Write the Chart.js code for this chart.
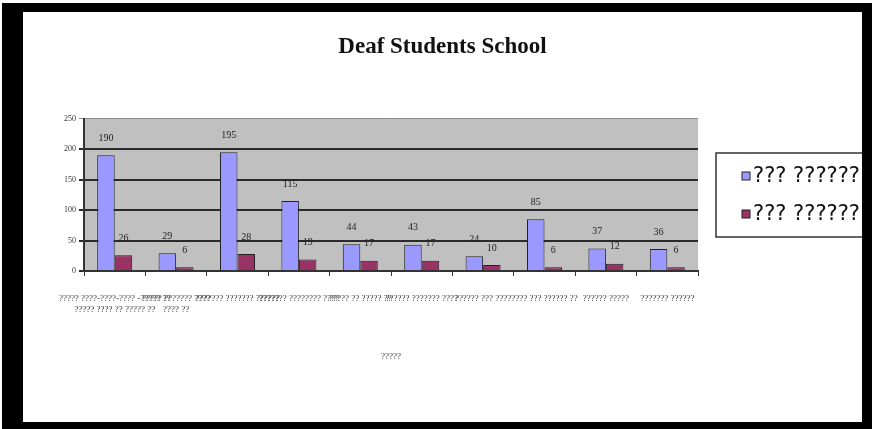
<!DOCTYPE html>
<html>
<head>
<meta charset="utf-8">
<script src="https://cdn.jsdelivr.net/npm/chart.js@4.4.0/dist/chart.umd.min.js"></script>
<style>
  html, body { margin: 0; padding: 0; background: #fff; }
  #frame {
    position: absolute; left: 2px; top: 3px; width: 870px; height: 426px;
    box-sizing: border-box; border-style: solid; border-color: #000;
    border-width: 9px 10px 7px 21px; background: #fff;
  }
  #wrap { position: relative; width: 839px; height: 410px; }
</style>
</head>
<body>
<div id="frame"><div id="wrap"><canvas id="deafChart"></canvas></div></div>
<script>
// data
const categories = [
  ['????? ????-????-???? -????? ??', '????? ???? ?? ????? ??'],
  ['????? ??????? ????', '???? ??'],
  '??????? ??????? ??????',
  '??????? ???????? ????',
  '????? ?? ????? ??',
  '?????? ??????? ????',
  '?????? ??? ????',
  '???? ??? ?????? ??',
  '?????? ?????',
  '??????? ??????'
];
const seriesNames = ['??? ??????', '??? ??????'];
const firstSeries = [190, 29, 195, 115, 44, 43, 24, 85, 37, 36];
const secondSeries = [26, 6, 28, 19, 17, 17, 10, 6, 12, 6];
const yTicks = { min: 0, max: 250, step: 50 };
const xTitle = '?????';
const chartTitle = 'Deaf Students School';

// gray plot background
const plotBg = {
  id: 'plotBg',
  beforeDraw(chart) {
    const { ctx, chartArea: a } = chart;
    ctx.save();
    ctx.fillStyle = '#c0c0c0';
    ctx.fillRect(a.left, a.top, a.width, a.height);
    ctx.restore();
  }
};

// value above each bar
const valueLabels = {
  id: 'valueLabels',
  afterDatasetsDraw(chart) {
    const ctx = chart.ctx;
    ctx.save();
    ctx.fillStyle = '#222';
    ctx.font = '10px "Liberation Serif"';
    ctx.textAlign = 'center';
    ctx.textBaseline = 'middle';
    chart.data.datasets.forEach((ds, i) => {
      chart.getDatasetMeta(i).data.forEach((bar, j) => {
        ctx.fillText(String(ds.data[j]), bar.x, bar.y - 17);
      });
    });
    ctx.restore();
  }
};

// boxed legend on the right (runs off the frame like the original)
const boxLegend = {
  id: 'boxLegend',
  afterDraw(chart) {
    const ctx = chart.ctx;
    const x = chart.chartArea.right + 18, y = 141;
    ctx.save();
    ctx.strokeStyle = '#333';
    ctx.lineWidth = 1.5;
    ctx.strokeRect(x, y, 200, 84);
    ctx.font = '21px "DejaVu Sans"';
    ctx.textBaseline = 'middle';
    chart.data.datasets.forEach((ds, i) => {
      const cy = y + 23 + i * 38;
      ctx.fillStyle = ds.backgroundColor;
      ctx.fillRect(x + 26, cy - 4, 8, 8);
      ctx.strokeStyle = '#222';
      ctx.lineWidth = 1;
      ctx.strokeRect(x + 26, cy - 4, 8, 8);
      ctx.fillStyle = '#111';
      ctx.fillText(ds.label, x + 37, cy + 1);
    });
    ctx.restore();
  }
};

new Chart(document.getElementById('deafChart'), {
  type: 'bar',
  data: {
    labels: categories,
    datasets: [
      { label: seriesNames[0], data: firstSeries, backgroundColor: '#9999ff', borderColor: '#222', borderWidth: 1 },
      { label: seriesNames[1], data: secondSeries, backgroundColor: '#993366', borderColor: '#222', borderWidth: 1 }
    ]
  },
  options: {
    responsive: true,
    maintainAspectRatio: false,
    animation: false,
    datasets: { bar: { categoryPercentage: 0.57, barPercentage: 1 } },
    plugins: {
      legend: { display: false },
      tooltip: { enabled: false },
      title: {
        display: true,
        text: chartTitle,
        color: '#111',
        font: { family: 'Liberation Serif', size: 23, weight: 'bold' },
        padding: { top: 21, bottom: 58 }
      }
    },
    scales: {
      x: {
        grid: { display: true, drawOnChartArea: false, drawTicks: true, tickLength: 5, color: '#333', offset: true },
        border: { display: true, color: '#333', width: 2 },
        ticks: {
          autoSkip: false, maxRotation: 0, minRotation: 0, padding: 17,
          color: '#333', font: { family: 'Liberation Serif', size: 9 }
        },
        title: {
          display: true, text: xTitle, color: '#333',
          font: { family: 'Liberation Serif', size: 9 },
          padding: { top: 0, bottom: 60 }
        },
        afterFit(s) { s.height = 151; }
      },
      y: {
        min: yTicks.min,
        max: yTicks.max,
        ticks: { stepSize: yTicks.step, color: '#333', font: { family: 'Liberation Serif', size: 8 }, padding: 3 },
        grid: {
          color: c => c.tick && c.tick.value === yTicks.max ? '#8a8a8a' : '#2a2a2a',
          lineWidth: c => c.tick && c.tick.value === yTicks.max ? 1 : 2,
          tickLength: 5
        },
        border: { color: '#333', width: 2 },
        afterFit(s) { s.width = 61; }
      },
      side: {
        position: 'right',
        grid: { display: false, drawTicks: false },
        ticks: { display: false },
        border: { display: false },
        afterFit(s) { s.width = 164; }
      }
    }
  },
  plugins: [plotBg, valueLabels, boxLegend]
});
</script>
</body>
</html>
